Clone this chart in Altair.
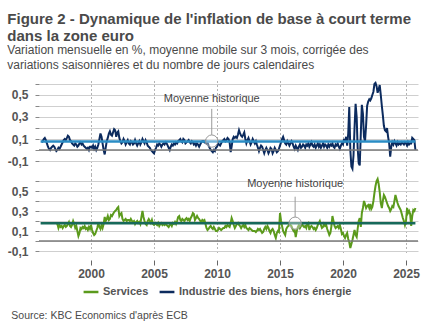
import altair as alt
import pandas as pd

# ---------------- data ----------------
series_names = ["Services", "Industrie des biens, hors énergie"]
series_colors = ["#5b9a1c", "#0c2b5e"]

neig_start = "1996-02-01"
neig = [
    0.07, 0.08, 0.10, 0.11, 0.09, 0.06, 0.03, 0.01, 0.00, 0.02, 0.03,          # 1996 (Feb-Dec)
    0.04, 0.03, 0.01, -0.01, 0.00, 0.02, 0.01, 0.03, 0.05, 0.07, 0.09, 0.10,   # 1997
    0.09, 0.11, 0.13, 0.12, 0.09, 0.08, 0.06, 0.05, 0.04, 0.06, 0.05, 0.03,    # 1998
    0.04, 0.06, 0.07, 0.05, 0.06, 0.04, 0.03, 0.02, 0.01, 0.02, 0.00, 0.03,    # 1999
    0.03, 0.02, 0.04, 0.01, 0.03, 0.00, 0.02, 0.05, 0.10, 0.15, 0.12, 0.06,    # 2000
    0.00, -0.04, 0.02, 0.08, 0.11, 0.15, 0.17, 0.14, 0.13, 0.16, 0.19, 0.18,   # 2001
    0.12, 0.16, 0.17, 0.11, 0.08, 0.06, 0.07, 0.10, 0.08, 0.05, 0.07, 0.09,    # 2002
    0.06, 0.05, 0.08, 0.07, 0.05, 0.06, 0.09, 0.06, 0.04, 0.06, 0.08, 0.05,    # 2003
    0.07, 0.10, 0.08, 0.06, 0.09, 0.07, 0.04, 0.03, 0.02, 0.00, -0.01, -0.02,  # 2004
    -0.03, 0.00, 0.02, 0.05, 0.04, 0.06, 0.05, 0.03, 0.05, 0.06, 0.05, 0.07,   # 2005
    0.06, 0.04, 0.02, 0.00, 0.03, 0.05, 0.04, 0.06, 0.05, 0.07, 0.06, 0.08,    # 2006
    0.09, 0.10, 0.08, 0.07, 0.10, 0.09, 0.06, 0.07, 0.08, 0.09, 0.07, 0.06,    # 2007
    0.08, 0.07, 0.05, 0.06, 0.04, 0.06, 0.05, 0.03, 0.05, 0.07, 0.08, 0.08,    # 2008
    0.07, 0.08, 0.06, 0.07, 0.04, 0.02, 0.00, -0.01, -0.02, 0.00, -0.01, 0.02, # 2009
    0.03, 0.06, 0.05, 0.04, 0.06, 0.08, 0.09, 0.10, 0.08, 0.09, 0.11, 0.10,    # 2010
    0.07, -0.02, 0.03, 0.10, 0.12, 0.11, 0.12, 0.11, 0.14, 0.18, 0.15, 0.13,   # 2011
    0.12, 0.14, 0.16, 0.10, 0.06, 0.09, 0.11, 0.08, 0.05, 0.07, 0.10, 0.08,    # 2012
    0.06, 0.08, 0.05, 0.02, -0.01, 0.02, 0.04, 0.03, 0.00, -0.03, 0.00, 0.02,  # 2013
    0.00, -0.03, -0.01, 0.02, 0.01, -0.03, -0.01, 0.02, 0.00, -0.02, -0.01, 0.01,  # 2014
    0.04, 0.07, 0.10, 0.12, 0.09, 0.06, 0.05, 0.08, 0.06, 0.04, 0.06, 0.08,    # 2015
    0.06, 0.03, 0.01, 0.04, 0.02, 0.00, 0.03, 0.05, 0.02, 0.03, 0.05, 0.04,    # 2016
    0.02, 0.05, 0.04, 0.06, 0.03, 0.05, 0.07, 0.04, 0.03, 0.05, 0.02, 0.04,    # 2017
    0.06, 0.03, 0.05, 0.02, 0.04, 0.06, 0.03, 0.05, 0.04, 0.02, 0.05, 0.03,    # 2018
    0.05, 0.04, 0.06, 0.03, 0.02, 0.05, 0.04, 0.06, 0.03, 0.01, 0.04, 0.06,    # 2019
    0.05, 0.10, 0.07, 0.12, 0.04, 0.15, 0.39, 0.00, -0.15, -0.17, -0.05, 0.20, # 2020
    0.42, 0.30, 0.02, -0.12, -0.14, 0.15, 0.41, 0.33, 0.12, 0.08, 0.22, 0.40,  # 2021
    0.44, 0.46, 0.45, 0.47, 0.50, 0.53, 0.60, 0.61, 0.58, 0.52, 0.55, 0.59,    # 2022
    0.50, 0.40, 0.32, 0.22, 0.18, 0.17, 0.20, 0.12, 0.06, -0.06, 0.03, 0.07,   # 2023
    0.05, 0.08, 0.06, 0.04, 0.07, 0.05, 0.06, 0.05, 0.07, 0.06, 0.05, 0.07,    # 2024
    0.06, 0.04, 0.07, 0.05, 0.06, 0.06, 0.11, 0.10, 0.09, 0.00,                # 2025 (Jan-Oct)
]

serv_start = "1997-04-01"
serv = [
    0.18, 0.17, 0.13, 0.16, 0.14, 0.15, 0.13, 0.15, 0.16,                      # 1997 (Apr-Dec)
    0.14, 0.15, 0.17, 0.19, 0.15, 0.14, 0.16, 0.20, 0.17, 0.13, 0.15, 0.10,    # 1998
    0.05, 0.08, 0.13, 0.12, 0.14, 0.13, 0.15, 0.12, 0.13, 0.11, 0.14, 0.12,    # 1999
    0.16, 0.11, 0.08, 0.06, 0.07, 0.10, 0.13, 0.18, 0.14, 0.12, 0.16, 0.13,    # 2000
    0.17, 0.24, 0.20, 0.22, 0.25, 0.21, 0.22, 0.26, 0.25, 0.27, 0.29, 0.30,    # 2001
    0.31, 0.33, 0.34, 0.25, 0.27, 0.28, 0.22, 0.20, 0.21, 0.22, 0.20, 0.21,    # 2002
    0.21, 0.20, 0.22, 0.20, 0.19, 0.20, 0.17, 0.19, 0.20, 0.18, 0.19, 0.17,    # 2003
    0.24, 0.30, 0.24, 0.20, 0.17, 0.16, 0.20, 0.22, 0.20, 0.18, 0.21, 0.17,    # 2004
    0.16, 0.18, 0.17, 0.16, 0.18, 0.15, 0.17, 0.18, 0.16, 0.17, 0.16, 0.17,    # 2005
    0.16, 0.15, 0.14, 0.16, 0.17, 0.15, 0.18, 0.17, 0.19, 0.17, 0.20, 0.24,    # 2006
    0.25, 0.21, 0.20, 0.22, 0.21, 0.20, 0.22, 0.23, 0.21, 0.22, 0.20, 0.23,    # 2007
    0.25, 0.28, 0.27, 0.21, 0.23, 0.25, 0.23, 0.22, 0.20, 0.19, 0.21, 0.20,    # 2008
    0.21, 0.17, 0.13, 0.11, 0.12, 0.14, 0.15, 0.13, 0.12, 0.14, 0.12, 0.10,    # 2009
    0.10, 0.11, 0.13, 0.12, 0.11, 0.12, 0.13, 0.13, 0.15, 0.14, 0.16, 0.15,    # 2010
    0.14, 0.18, 0.23, 0.20, 0.16, 0.13, 0.15, 0.17, 0.18, 0.16, 0.15, 0.13,    # 2011
    0.15, 0.16, 0.14, 0.16, 0.13, 0.12, 0.11, 0.13, 0.12, 0.11, 0.10, 0.10,    # 2012
    0.10, 0.09, 0.10, 0.12, 0.11, 0.12, 0.10, 0.08, 0.09, 0.12, 0.14, 0.12,    # 2013
    0.15, 0.13, 0.10, 0.08, 0.11, 0.12, 0.10, 0.06, 0.03, 0.08, 0.10, 0.09,    # 2014
    0.28, 0.20, 0.15, 0.10, 0.08, 0.06, 0.12, 0.14, 0.15, 0.17, 0.16, 0.15,    # 2015
    0.12, 0.10, 0.11, 0.04, 0.10, 0.14, 0.16, 0.13, 0.15, 0.17, 0.15, 0.14,    # 2016
    0.15, 0.13, 0.17, 0.18, 0.11, 0.14, 0.15, 0.14, 0.12, 0.13, 0.11, 0.13,    # 2017
    0.16, 0.18, 0.20, 0.16, 0.13, 0.14, 0.17, 0.15, 0.16, 0.12, 0.09, 0.06,    # 2018
    0.08, 0.15, 0.25, 0.20, 0.15, 0.13, 0.14, 0.15, 0.13, 0.16, 0.12, 0.07,    # 2019
    0.08, 0.05, 0.03, 0.06, 0.08, 0.02, -0.01, -0.07, -0.03, 0.01, 0.06, 0.11, # 2020
    0.06, 0.04, 0.12, 0.20, 0.23, 0.14, 0.28, 0.33, 0.40, 0.37, 0.33, 0.35,    # 2021
    0.36, 0.33, 0.37, 0.32, 0.34, 0.40, 0.48, 0.55, 0.60, 0.62, 0.57, 0.49,    # 2022
    0.38, 0.33, 0.40, 0.46, 0.44, 0.41, 0.38, 0.35, 0.33, 0.30, 0.32, 0.35,    # 2023
    0.34, 0.40, 0.46, 0.42, 0.38, 0.35, 0.33, 0.31, 0.27, 0.23, 0.20, 0.16,    # 2024
    0.20, 0.33, 0.28, 0.30, 0.27, 0.15, 0.25, 0.31, 0.30, 0.33,                # 2025 (Jan-Oct)
]

# historical averages
mean_values = [0.078, 0.177]            # industrie, services
mean_start = "1996-01-01"
mean_end = "2025-10-01"
mean_colors = ["#2a8dc5", "#17695a"]

# annotation "Moyenne historique" : date, text y, leader top, leader bottom, circle y
ann_text = "Moyenne historique"
ann_dates = ["2009-08-01", "2016-03-15"]
ann_text_y = [0.467, 0.566]
ann_line_top = [0.374, 0.443]
ann_line_bot = [0.137, 0.240]
ann_circle_y = [0.081, 0.178]

year_ticks = [2000, 2005, 2010, 2015, 2020, 2025]
y_ticks = [-0.1, 0.0, 0.1, 0.2, 0.3, 0.4, 0.5, 0.6]

# ---------------- build ----------------
FONT = "Liberation Sans"
TXT = "#555555"

df_neig = pd.DataFrame({
    "date": pd.date_range(neig_start, periods=len(neig), freq="MS"),
    "value": neig, "series": series_names[1]})
df_serv = pd.DataFrame({
    "date": pd.date_range(serv_start, periods=len(serv), freq="MS"),
    "value": serv, "series": series_names[0]})

x_scale = alt.Scale(domain=[alt.DateTime(year=1995, month=11, date=15),
                            alt.DateTime(year=2025, month=12, date=15)])
tick_dates = [alt.DateTime(year=y, month=1, date=1) for y in year_ticks]

color = alt.Color("series:N",
                  scale=alt.Scale(domain=series_names, range=series_colors),
                  legend=alt.Legend(title=None, orient="none", legendX=43, legendY=202,
                                    direction="horizontal",
                                    labelFont=FONT, labelFontSize=11, labelFontWeight="bold",
                                    labelColor=TXT, labelLimit=400, symbolType="stroke",
                                    symbolSize=220, symbolStrokeWidth=2.5, labelOffset=3,
                                    columnPadding=5))

label_expr = ("(abs(round(datum.value*10)) % 2 == 1) ? "
              "replace(replace(datum.label, '.', ','), '\u2212', '-') : ''")

Y_AXIS = alt.Axis(values=y_ticks, format=".1f", labelExpr=label_expr, title=None,
                  domain=False, grid=True, gridColor="#cfcfcf", gridWidth=1,
                  ticks=True, tickColor="#888888", tickSize=4, labelPadding=7,
                  labelOverlap=False, labelFont=FONT, labelFontSize=12,
                  labelFontWeight="bold", labelColor=TXT)


def panel(df, mean_v, mean_c, ann_i, ydom, height, show_x):
    if show_x:
        xaxis = alt.Axis(values=tick_dates, format="%Y", title=None, domain=False,
                         grid=True, gridDash=[1, 3], gridColor="#666666",
                         tickColor="#666666", tickSize=5, offset=5, labelPadding=3,
                         labelFont=FONT, labelFontSize=12, labelFontWeight="bold",
                         labelColor=TXT)
    else:
        xaxis = alt.Axis(values=tick_dates, title=None, domain=False, labels=False,
                         ticks=False, grid=True, gridDash=[1, 3], gridColor="#666666")
    yscale = alt.Scale(domain=ydom, nice=False, zero=False)

    def X(f):
        return alt.X(f, scale=x_scale, axis=xaxis)

    def Y(f):
        return alt.Y(f, scale=yscale, axis=Y_AXIS)

    line = alt.Chart(df).mark_line(strokeWidth=2).encode(
        x=X("date:T"), y=Y("value:Q"), color=color)

    zero_df = pd.DataFrame({"date": [mean_start, mean_end], "value": [0.0, 0.0]})
    zero = alt.Chart(zero_df).mark_rule(color="#7a7a7a", strokeWidth=1).encode(
        y=Y("value:Q"))

    mdf = pd.DataFrame({"date": [mean_start], "end": [mean_end], "value": [mean_v]})
    mean = alt.Chart(mdf).mark_rule(color=mean_c, strokeWidth=2.5).encode(
        x=X("date:T"), x2="end:T", y=Y("value:Q"))

    adf = pd.DataFrame({"date": [ann_dates[ann_i]], "value": [ann_text_y[ann_i]],
                        "lt": [ann_line_top[ann_i]], "lb": [ann_line_bot[ann_i]],
                        "cy": [ann_circle_y[ann_i]], "label": [ann_text]})
    atext = alt.Chart(adf).mark_text(font=FONT, fontSize=11, color="#444444",
                                     baseline="middle", align="center").encode(
        x=X("date:T"), y=Y("value:Q"), text="label:N")
    aline = alt.Chart(adf).mark_rule(color="#9a9a9a", strokeWidth=1).encode(
        x=X("date:T"), y=Y("lt:Q"), y2="lb:Q")
    acirc = alt.Chart(adf).mark_point(shape="circle", size=150, stroke="#9a9a9a",
                                      strokeWidth=1, fill="white", fillOpacity=0.35,
                                      opacity=1).encode(
        x=X("date:T"), y=Y("cy:Q"))

    return alt.layer(line, zero, mean, aline, acirc, atext).properties(
        width=379, height=height)


# domains chosen so that each 0.1 step falls on whole pixels
top = panel(df_neig, mean_values[0], mean_colors[0], 0, [-0.22727, 0.62727], 94, False).properties(
    title=alt.TitleParams(
        text=["Figure 2 - Dynamique de l'inflation de base à court terme",
              "dans la zone euro"],
        subtitle=["Variation mensuelle en %, moyenne mobile sur 3 mois, corrigée des",
                  "variations saisonnières et du nombre de jours calendaires"],
        anchor="start", frame="bounds", font=FONT, fontSize=15, fontWeight="bold",
        color="#4a4a4a", lineHeight=17.5, subtitleFont=FONT, subtitleFontSize=12,
        subtitleColor="#4a4a4a", subtitleLineHeight=14.5, subtitlePadding=1, offset=7))

bottom = panel(df_serv, mean_values[1], mean_colors[1], 1, [-0.14, 0.66], 80, True)

chart = alt.vconcat(top, bottom, spacing=0).properties(
    title=alt.TitleParams("Source: KBC Economics d'après ECB", orient="bottom",
                          anchor="start", frame="bounds", font=FONT, fontSize=10.5,
                          fontWeight="normal", color="#4a4a4a", offset=14, dx=4),
    padding={"left": 7, "top": 11, "right": 5, "bottom": 5},
).configure_view(stroke=None).configure_concat(spacing=0)

chart.save("out.html", embed_options={"renderer": "svg", "actions": False})
